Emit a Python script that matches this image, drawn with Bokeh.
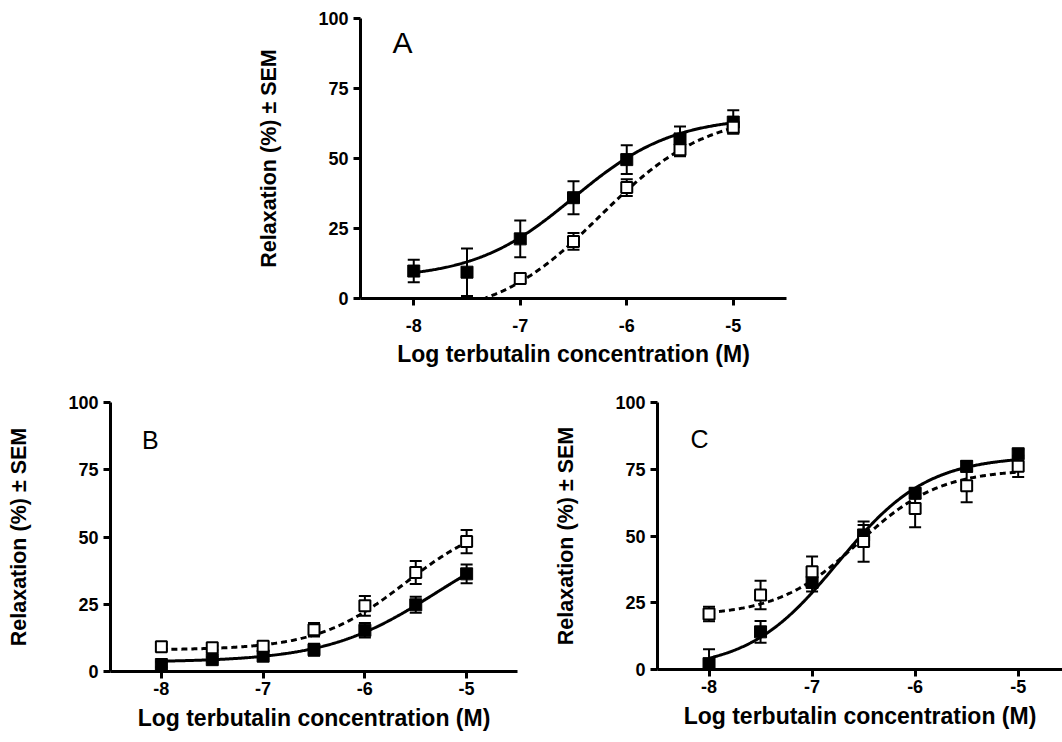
import numpy as np
from bokeh.plotting import figure
from bokeh.models import (ColumnDataSource, Whisker, TeeHead, FixedTicker, Range1d, Spacer)
from bokeh.layouts import row, column
from bokeh.core.properties import value
from bokeh.embed import file_html
from bokeh.resources import INLINE

# ---------------- data ----------------
logc = [-8, -7.5, -7, -6.5, -6, -5.5, -5]
x_ticks = [-8, -7, -6, -5]
x_tick_labels = ["-8", "-7", "-6", "-5"]
y_ticks = [0, 25, 50, 75, 100]
y_tick_labels = ["0", "25", "50", "75", "100"]

# Panel A
a_filled_mean = [9.8, 9.4, 21.3, 36.0, 49.6, 57.0, 63.0]
a_filled_sem = [4.0, 8.5, 6.6, 5.9, 5.1, 4.4, 4.2]
a_open_logc = [-7, -6.5, -6, -5.5, -5]
a_open_mean = [7.1, 20.4, 39.6, 53.1, 61.2]
a_open_sem = [1.0, 3.0, 3.0, 2.3, 2.0]

# Panel B
b_filled_mean = [2.6, 4.4, 5.7, 8.1, 15.3, 24.8, 36.3]
b_filled_sem = [1.0, 1.0, 1.2, 2.2, 2.7, 3.0, 3.5]
b_open_mean = [9.2, 8.8, 9.4, 15.5, 24.4, 36.8, 48.3]
b_open_sem = [0.8, 0.8, 1.5, 2.5, 3.7, 4.3, 4.3]

# Panel C
c_filled_mean = [2.2, 14.1, 32.6, 50.4, 66.0, 76.1, 80.8]
c_filled_sem = [5.4, 4.1, 3.4, 3.7, 1.9, 2.0, 1.7]
c_open_mean = [20.8, 27.9, 36.6, 47.9, 60.3, 68.8, 76.1]
c_open_sem = [2.7, 5.3, 5.7, 7.5, 7.0, 6.2, 4.0]

# sigmoidal fit parameters: bottom, top, logEC50, hill
fit_a_filled = [7.0, 65.0, -6.5, 0.93]
fit_a_open = [-7.5, 66.5, -6.25, 0.87]
fit_b_filled = [3.5, 55.0, -5.3, 0.8]
fit_b_open = [8.0, 58.0, -5.6, 1.0]
fit_c_filled = [0.0, 80.0, -6.75, 1.0]
fit_c_open = [20.0, 75.0, -6.55, 1.1]
fit_x_range = [-8, -5]

panel_labels = ["A", "B", "C"]
x_label = "Log terbutalin concentration (M)"
y_label = "Relaxation (%) \u00b1 SEM"

FONT = "Liberation Sans"


def curve(params):
    b, t, ec, h = params
    xs = np.linspace(fit_x_range[0], fit_x_range[1], 300)
    ys = b + (t - b) / (1 + 10 ** ((ec - xs) * h))
    return xs, ys


def make_panel(width, height, borders, x_end, letter, letter_size, letter_pos,
               filled, opened, fits, tick_standoff, label_standoff):
    left, right, top, bottom = borders
    p = figure(width=width, height=height, output_backend="svg", toolbar_location=None,
               x_range=Range1d(-8.5, x_end), y_range=Range1d(0, 100),
               min_border_left=left, min_border_right=right,
               min_border_top=top, min_border_bottom=bottom)
    p.grid.visible = False
    p.outline_line_color = None
    p.background_fill_color = "white"
    p.border_fill_color = "white"

    for ax in (p.xaxis[0], p.yaxis[0]):
        ax.axis_line_width = 3
        ax.axis_line_color = "black"
        ax.major_tick_line_width = 3
        ax.major_tick_line_color = "black"
        ax.major_tick_out = 7
        ax.major_tick_in = 0
        ax.minor_tick_line_color = None
        ax.major_label_text_font = FONT
        ax.major_label_text_font_style = "bold"
        ax.major_label_text_font_size = "18px"
        ax.major_label_text_color = "black"
        ax.axis_label_text_font = FONT
        ax.axis_label_text_font_style = "bold"
        ax.axis_label_text_color = "black"

    p.xaxis.ticker = FixedTicker(ticks=x_ticks)
    p.xaxis.major_label_overrides = dict(zip(x_ticks, x_tick_labels))
    p.yaxis.ticker = FixedTicker(ticks=y_ticks)
    p.yaxis.major_label_overrides = dict(zip(y_ticks, y_tick_labels))
    p.xaxis.axis_label = x_label
    p.yaxis.axis_label = y_label
    p.xaxis.axis_label_text_font_size = "23px"
    p.yaxis.axis_label_text_font_size = "21.5px"
    p.xaxis.major_label_standoff = tick_standoff
    p.yaxis.major_label_standoff = 5
    p.xaxis.axis_label_standoff = label_standoff
    p.yaxis.axis_label_standoff = 34

    # fitted curves
    xs, ys = curve(fits[0])
    p.line(xs, ys, line_color="black", line_width=3)
    xs, ys = curve(fits[1])
    p.line(xs, ys, line_color="black", line_width=3, line_dash="6 4")

    # error bars and markers
    for (xv, mean, sem), is_open in ((filled, False), (opened, True)):
        src = ColumnDataSource(dict(
            x=xv, y=mean,
            lower=[m - s for m, s in zip(mean, sem)],
            upper=[m + s for m, s in zip(mean, sem)]))
        w = Whisker(source=src, base="x", lower="lower", upper="upper",
                    dimension="height", line_width=2, line_color="black",
                    upper_head=TeeHead(size=12, line_width=2, line_color="black"),
                    lower_head=TeeHead(size=12, line_width=2, line_color="black"))
        p.add_layout(w)
        if is_open:
            p.scatter("x", "y", source=src, marker="square", size=11,
                      fill_color="white", line_color="black", line_width=2)
        else:
            p.scatter("x", "y", source=src, marker="square", size=12,
                      fill_color="black", line_color="black", line_width=1)

    p.text(x=[letter_pos[0]], y=[letter_pos[1]], text=[letter],
           text_font=value(FONT), text_font_size=letter_size,
           text_color="black", text_baseline="alphabetic", text_align="left")
    return p


pA = make_panel(556, 380, (120, 10, 18, 82), -4.5, panel_labels[0], "30px", (-8.2, 91.5),
                (logc, a_filled_mean, a_filled_sem),
                (a_open_logc, a_open_mean, a_open_sem),
                (fit_a_filled, fit_a_open), 13, 6)
pB = make_panel(537, 354, (110, 20, 22, 62), -4.5, panel_labels[1], "25px", (-8.19, 86.2),
                (logc, b_filled_mean, b_filled_sem),
                (logc, b_open_mean, b_open_sem),
                (fit_b_filled, fit_b_open), 3, 7)
pC = make_panel(525, 352, (120, 0, 13, 63), -4.57, panel_labels[2], "25px", (-8.18, 86.2),
                (logc, c_filled_mean, c_filled_sem),
                (logc, c_open_mean, c_open_sem),
                (fit_c_filled, fit_c_open), 3, 7)

layout = column(row(Spacer(width=240, height=380), pA), row(pB, pC))

open("out.html", "w").write(file_html(layout, INLINE))
